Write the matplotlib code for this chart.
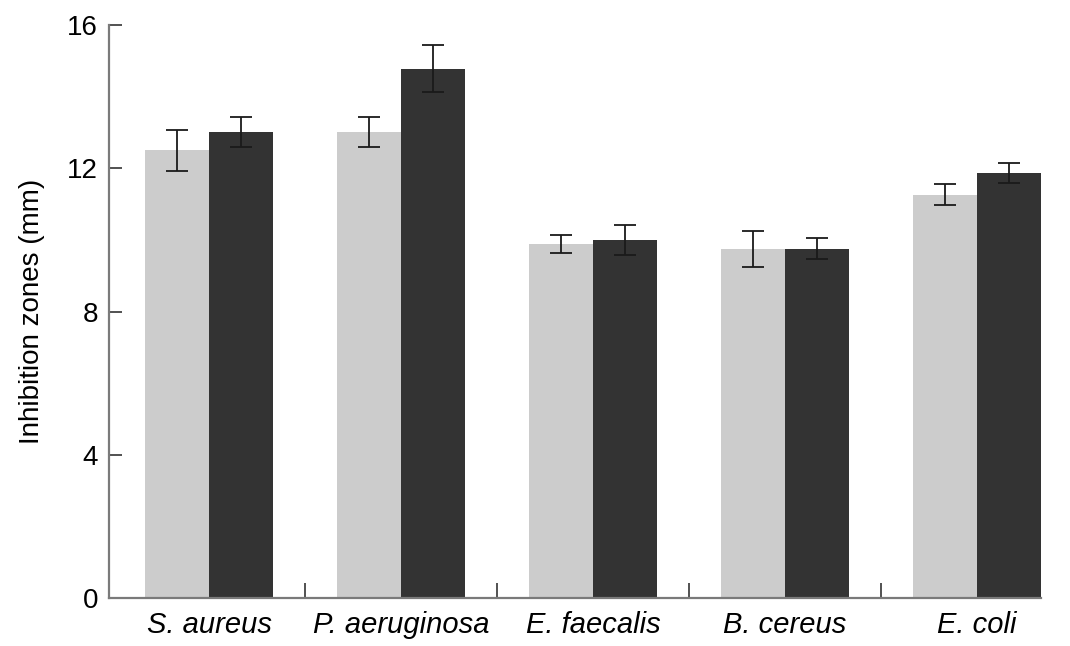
import numpy as np
import matplotlib.pyplot as plt

species = ['S. aureus', 'P. aeruginosa', 'E. faecalis', 'B. cereus', 'E. coli']
light_vals = [12.5, 13.0, 9.88, 9.75, 11.26]
light_err = [0.57, 0.42, 0.26, 0.5, 0.3]
dark_vals = [13.0, 14.78, 10.0, 9.75, 11.87]
dark_err = [0.42, 0.65, 0.42, 0.29, 0.28]
yticks = [0, 4, 8, 12, 16]

plt.rcParams['font.family'] = ['Liberation Sans', 'DejaVu Sans']

fig = plt.figure(figsize=(10.7, 6.46), dpi=100)
ax = fig.add_axes([0.102, 0.0743, 0.871, 0.887])

x = np.arange(len(species))
width = 0.333
ekw = dict(ecolor='#1a1a1a', elinewidth=1.3, capsize=8, capthick=1.3)

ax.bar(x - width / 2, light_vals, width, color='#cccccc', yerr=light_err, error_kw=ekw)
ax.bar(x + width / 2, dark_vals, width, color='#333333', yerr=dark_err, error_kw=ekw)

ax.set_xlim(-0.52, 4.333)
ax.set_ylim(0, 16)
ax.set_yticks(yticks)
ax.set_yticklabels([str(v) for v in yticks], fontsize=20)
ax.set_ylabel('Inhibition zones (mm)', fontsize=20, labelpad=16)

# category boundary ticks on the x axis, labels centred under groups
ax.set_xticks(np.arange(len(species) - 1) + 0.5)
ax.set_xticklabels([])
ax.set_xticks(x, minor=True)
ax.set_xticklabels(species, minor=True, fontsize=21, style='italic')
ax.tick_params(axis='x', which='minor', length=0, pad=9)
ax.tick_params(axis='x', which='major', direction='in', length=11, width=1.2, color='#333333')
ax.tick_params(axis='y', direction='in', length=9, width=1.2, color='#333333', pad=8)

for side in ['top', 'right']:
    ax.spines[side].set_visible(False)
for side in ['left', 'bottom']:
    ax.spines[side].set_color('#7a7a7a')
    ax.spines[side].set_linewidth(1.6)

plt.savefig('out.png', dpi=100)
